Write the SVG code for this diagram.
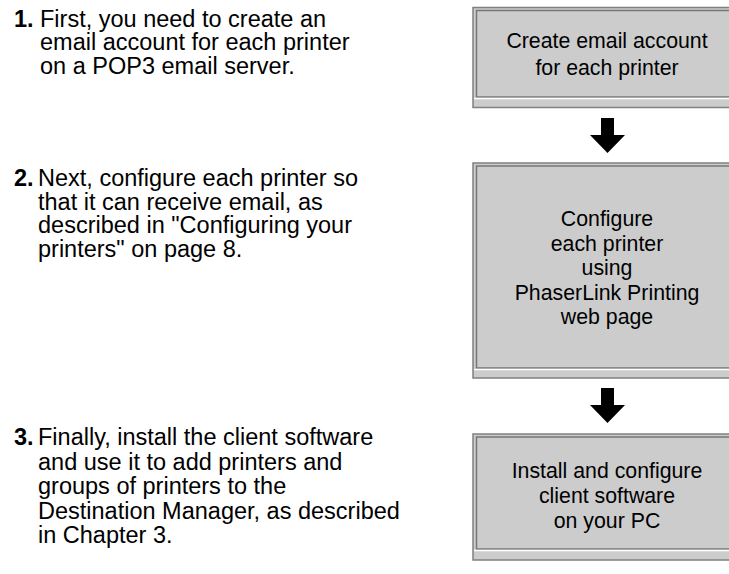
<svg xmlns="http://www.w3.org/2000/svg" width="729" height="574" viewBox="0 0 729 574">
<style>
.t{font-family:"Liberation Sans",Arial,sans-serif;font-size:23.5px;fill:#000}
.b{font-family:"Liberation Sans",Arial,sans-serif;font-size:21.3px;fill:#000;text-anchor:middle}
.n{font-weight:bold}
.outer{fill:#cccccc;stroke:#808080;stroke-width:1.5}
.inner{fill:#cccccc;stroke:#777777;stroke-width:1.5}
.hl{stroke:#ffffff;stroke-width:1.5}
.arr{fill:#000}
</style>
<g id="step1-text">
<text class="t n" x="14" y="26.5">1.</text>
<text class="t" x="40" y="26.5">First, you need to create an</text>
<text class="t" x="40" y="50">email account for each printer</text>
<text class="t" x="40" y="74">on a POP3 email server.</text>
</g>
<g id="step2-text">
<text class="t n" x="14" y="186">2.</text>
<text class="t" x="38" y="186">Next, configure each printer so</text>
<text class="t" x="38" y="209.5">that it can receive email, as</text>
<text class="t" x="38" y="233">described in "Configuring your</text>
<text class="t" x="38" y="257">printers" on page 8.</text>
</g>
<g id="step3-text">
<text class="t n" x="14" y="445">3.</text>
<text class="t" x="38" y="445">Finally, install the client software</text>
<text class="t" x="38" y="469.5">and use it to add printers and</text>
<text class="t" x="38" y="494">groups of printers to the</text>
<text class="t" x="38" y="518.5">Destination Manager, as described</text>
<text class="t" x="38" y="543">in Chapter 3.</text>
</g>
<g id="box1">
<rect class="outer" x="473" y="7.5" width="270" height="100"/>
<rect class="inner" x="476.5" y="10.5" width="266" height="86.5"/>
<line class="hl" x1="474" y1="98.5" x2="729" y2="98.5"/>
<text class="b" x="607" y="48">Create email account</text>
<text class="b" x="607" y="74.5">for each printer</text>
</g>
<g id="box2">
<rect class="outer" x="473" y="163" width="270" height="215"/>
<rect class="inner" x="476.5" y="166" width="266" height="202"/>
<line class="hl" x1="474" y1="369.5" x2="729" y2="369.5"/>
<text class="b" x="607" y="226">Configure</text>
<text class="b" x="607" y="250.5">each printer</text>
<text class="b" x="607" y="275">using</text>
<text class="b" x="607" y="299.5">PhaserLink Printing</text>
<text class="b" x="607" y="324">web page</text>
</g>
<g id="box3">
<rect class="outer" x="473" y="434" width="270" height="126"/>
<rect class="inner" x="476.5" y="437" width="266" height="112"/>
<line class="hl" x1="474" y1="550.5" x2="729" y2="550.5"/>
<text class="b" x="607" y="478">Install and configure</text>
<text class="b" x="607" y="503">client software</text>
<text class="b" x="607" y="528">on your PC</text>
</g>
<g id="connectors">
<polygon class="arr" points="601,118 614,118 614,135 625,135 607.5,153 590,135 601,135"/>
<polygon class="arr" points="601,388 614,388 614,405 625,405 607.5,423 590,405 601,405"/>
</g>
</svg>
